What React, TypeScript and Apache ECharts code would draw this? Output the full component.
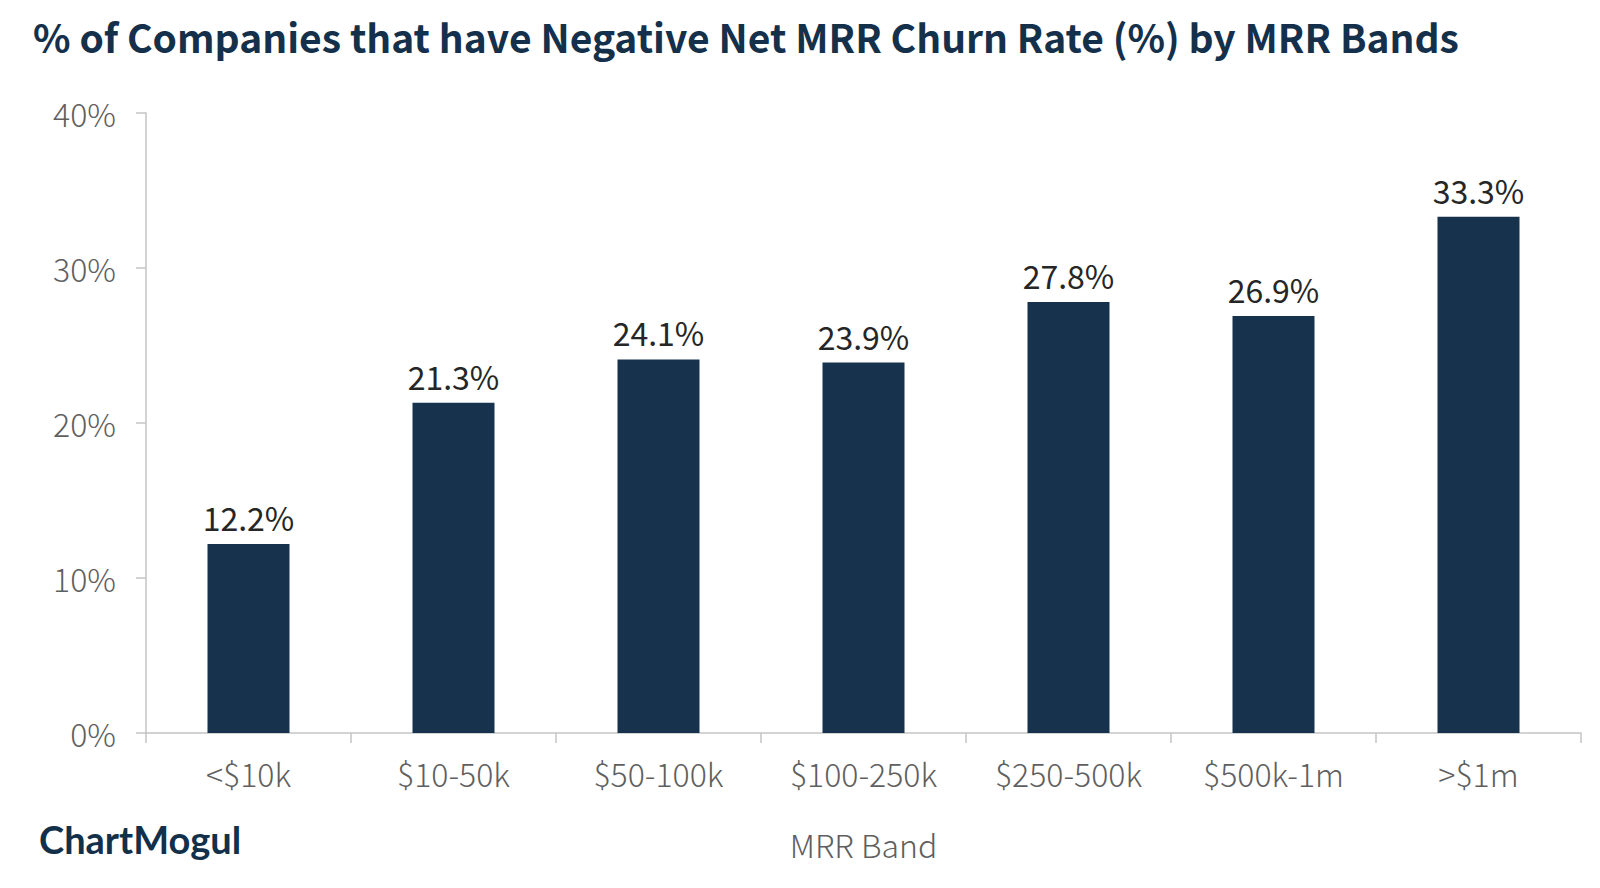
import { useEffect, useRef } from 'react';
import * as echarts from 'echarts';

const bands = ['<$10k', '$10-50k', '$50-100k', '$100-250k', '$250-500k', '$500k-1m', '>$1m'];
const negativeChurnShare = [12.2, 21.3, 24.1, 23.9, 27.8, 26.9, 33.3];

const navy = '#17324d';
const axisGray = '#c4c4c4';
const labelGray = '#5f5f5f';
const font = '"Noto Sans CJK SC", "Noto Sans", sans-serif';

export default function App() {
  const chartRef = useRef<HTMLDivElement>(null);

  useEffect(() => {
    if (!chartRef.current) return;
    document.body.style.margin = '0';

    const chart = echarts.init(chartRef.current, undefined, { renderer: 'svg' });

    const option: echarts.EChartsOption = {
      animation: false,
      backgroundColor: '#ffffff',
      textStyle: { fontFamily: font },
      title: {
        text: '% of Companies that have Negative Net MRR Churn Rate (%) by MRR Bands',
        left: 28,
        top: 11,
        textStyle: {
          color: '#15304b',
          fontSize: 39,
          fontWeight: 'bold',
          fontFamily: font,
        },
      },
      grid: {
        left: 146,
        right: 19,
        top: 113,
        bottom: 155,
      },
      xAxis: {
        type: 'category',
        data: bands,
        name: 'MRR Band',
        nameLocation: 'middle',
        nameGap: 95,
        nameTextStyle: {
          color: labelGray,
          fontSize: 32,
          fontWeight: 300,
          fontFamily: font,
        },
        axisLine: { lineStyle: { color: axisGray, width: 1.5 } },
        axisTick: { show: true, length: 10, lineStyle: { color: axisGray, width: 1.5 } },
        axisLabel: {
          color: labelGray,
          fontSize: 32,
          fontWeight: 300,
          fontFamily: font,
          margin: 24,
        },
      },
      yAxis: {
        type: 'value',
        min: 0,
        max: 40,
        interval: 10,
        axisLine: { show: true, lineStyle: { color: axisGray, width: 1.5 } },
        axisTick: { show: true, length: 10, lineStyle: { color: axisGray, width: 1.5 } },
        splitLine: { show: false },
        axisLabel: {
          formatter: '{value}%',
          color: labelGray,
          fontSize: 32,
          fontWeight: 300,
          fontFamily: font,
          margin: 30,
        },
      },
      graphic: [
        {
          type: 'text',
          left: 39,
          top: 820,
          style: {
            text: 'ChartMogul',
            fill: '#13304a',
            font: 'bold 38px Lato, "Noto Sans", sans-serif',
          },
        },
      ],
      series: [
        {
          type: 'bar',
          data: negativeChurnShare,
          barWidth: '40%',
          itemStyle: { color: navy },
          label: {
            show: true,
            position: 'top',
            distance: 11,
            formatter: '{c}%',
            color: '#262626',
            fontSize: 32,
            fontFamily: font,
          },
        },
      ],
    };

    chart.setOption(option);

    return () => {
      chart.dispose();
    };
  }, []);

  return <div ref={chartRef} style={{ width: 1600, height: 888 }} />;
}
